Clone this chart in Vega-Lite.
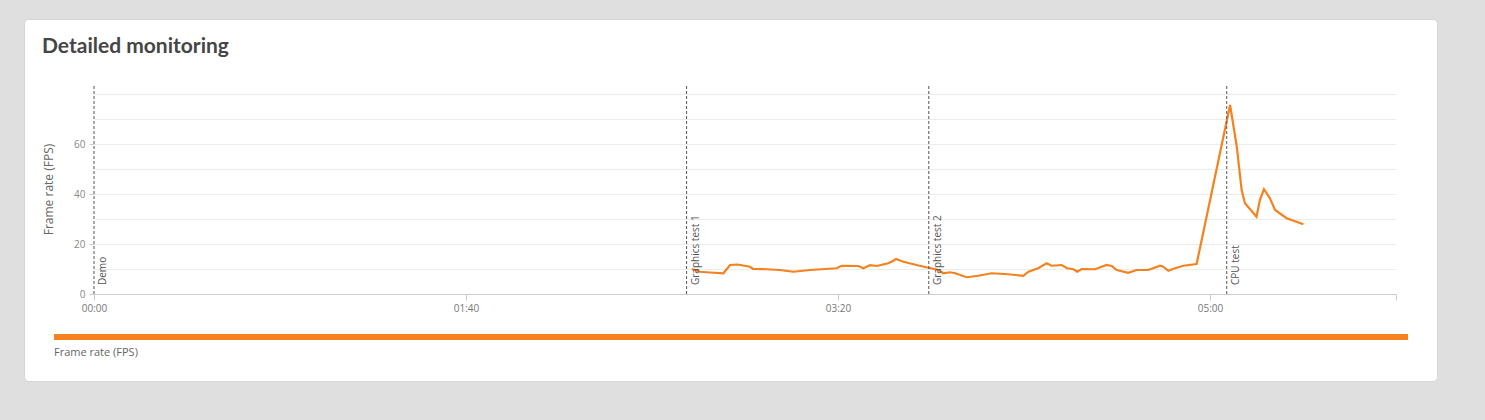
{
  "$schema": "https://vega.github.io/schema/vega-lite/v6.json",
  "width": 1413,
  "height": 362,
  "autosize": {"type": "none"},
  "padding": {"left": 24, "top": 19, "right": 48, "bottom": 39},
  "background": "#dfdfdf",
  "title": {"text": "Detailed monitoring", "anchor": "start", "frame": "group", "font": "Lato", "fontSize": 21, "fontWeight": "bold", "color": "#454545", "offset": -38, "dx": 18},
  "config": {
    "view": {"fill": "white", "stroke": "#d4d4d4", "cornerRadius": 4},
    "font": "Open Sans"
  },
  "datasets": {
    "fps": [
      {"t": 160.7, "fps": 10.0}, {"t": 162.9, "fps": 8.9}, {"t": 165.6, "fps": 8.6}, {"t": 169.2, "fps": 8.3},
      {"t": 170.1, "fps": 10.0}, {"t": 171.0, "fps": 11.6}, {"t": 173.0, "fps": 11.8}, {"t": 176.3, "fps": 10.9},
      {"t": 177.2, "fps": 10.0}, {"t": 180.8, "fps": 9.9}, {"t": 184.4, "fps": 9.6}, {"t": 188.0, "fps": 8.9},
      {"t": 192.5, "fps": 9.6}, {"t": 199.6, "fps": 10.3}, {"t": 201.0, "fps": 11.3}, {"t": 205.5, "fps": 11.2},
      {"t": 206.8, "fps": 10.3}, {"t": 208.6, "fps": 11.5}, {"t": 210.4, "fps": 11.2}, {"t": 213.5, "fps": 12.3},
      {"t": 214.4, "fps": 12.9}, {"t": 215.6, "fps": 14.0}, {"t": 217.6, "fps": 12.9}, {"t": 221.1, "fps": 11.6},
      {"t": 224.3, "fps": 10.5}, {"t": 227.0, "fps": 9.6}, {"t": 228.3, "fps": 8.3}, {"t": 230.1, "fps": 8.7},
      {"t": 231.5, "fps": 8.3}, {"t": 234.6, "fps": 6.7}, {"t": 237.7, "fps": 7.3}, {"t": 241.3, "fps": 8.3},
      {"t": 244.9, "fps": 8.0}, {"t": 249.8, "fps": 7.3}, {"t": 251.2, "fps": 8.9}, {"t": 253.8, "fps": 10.3},
      {"t": 256.1, "fps": 12.3}, {"t": 257.4, "fps": 11.3}, {"t": 260.1, "fps": 11.6}, {"t": 261.6, "fps": 10.3},
      {"t": 263.3, "fps": 9.9}, {"t": 264.3, "fps": 8.9}, {"t": 265.5, "fps": 10.0}, {"t": 269.1, "fps": 9.9},
      {"t": 272.2, "fps": 11.6}, {"t": 273.6, "fps": 11.2}, {"t": 274.9, "fps": 9.6}, {"t": 278.0, "fps": 8.5},
      {"t": 280.3, "fps": 9.6}, {"t": 283.4, "fps": 9.6}, {"t": 286.6, "fps": 11.3}, {"t": 287.4, "fps": 10.9},
      {"t": 288.8, "fps": 9.3}, {"t": 290.6, "fps": 10.3}, {"t": 292.8, "fps": 11.3}, {"t": 296.4, "fps": 12.0},
      {"t": 305.4, "fps": 75.6}, {"t": 307.2, "fps": 58.9}, {"t": 308.5, "fps": 41.6}, {"t": 309.4, "fps": 36.3},
      {"t": 312.5, "fps": 30.9}, {"t": 313.4, "fps": 37.6}, {"t": 314.5, "fps": 41.9}, {"t": 316.1, "fps": 38.3},
      {"t": 317.5, "fps": 33.6}, {"t": 320.6, "fps": 30.3}, {"t": 325.1, "fps": 27.9}
    ],
    "events": [
      {"t": 0, "name": "Demo"},
      {"t": 159.3, "name": "Graphics test 1"},
      {"t": 224.4, "name": "Graphics test 2"},
      {"t": 304.5, "name": "CPU test"}
    ]
  },
  "layer": [
    {
      "data": {"name": "fps"},
      "mark": {"type": "line", "strokeWidth": 2.2},
      "encoding": {
        "x": {
          "field": "t", "type": "quantitative",
          "scale": {"domain": [0, 350], "range": [70, 1372], "nice": false, "zero": false},
          "axis": {
            "values": [0, 100, 200, 300, 350],
            "labelExpr": "datum.value == 350 ? '' : utcFormat(datum.value * 1000, '%M:%S')",
            "title": null, "offset": -87, "grid": false,
            "domainColor": "#cccccc", "tickColor": "#cccccc", "tickSize": 6,
            "labelColor": "#777777", "labelFontSize": 10, "labelPadding": 3, "labelFlush": false
          }
        },
        "y": {
          "field": "fps", "type": "quantitative",
          "scale": {"domain": [0, 83.6], "range": [275, 66], "nice": false},
          "axis": {
            "values": [0, 10, 20, 30, 40, 50, 60, 70, 80],
            "labelExpr": "(datum.value % 20 == 0 && datum.value < 80) ? datum.label : ''",
            "title": "Frame rate (FPS)", "offset": -70, "domain": false,
            "grid": true, "gridColor": "#ececec",
            "tickColor": {"condition": {"test": "datum.value % 20 == 0 && datum.value < 80", "value": "#cccccc"}, "value": "transparent"},
            "tickSize": 5, "labelColor": "#888888", "labelFontSize": 10, "labelPadding": 4,
            "titleFontSize": 12, "titleFontWeight": "normal", "titleColor": "#666666",
            "titleX": -46, "titleY": 170, "titleBaseline": "middle", "titleAngle": 270, "titleAlign": "center"
          }
        },
        "color": {
          "datum": 1, "type": "quantitative",
          "scale": {"domain": [0, 1], "range": ["#f5821f", "#f5821f"]},
          "legend": {
            "orient": "none", "legendX": 30, "legendY": 315, "direction": "horizontal",
            "gradientLength": 1354, "gradientThickness": 6, "gradientStrokeWidth": 0,
            "values": [0], "labelExpr": "''", "labelFontSize": 1, "labelOpacity": 0, "labelOffset": 0,
            "title": "Frame rate (FPS)", "titleOrient": "bottom", "titleAnchor": "start",
            "titleFontSize": 11, "titleFontWeight": "normal", "titleColor": "#666666", "titlePadding": 6, "padding": 0
          }
        }
      }
    },
    {
      "data": {"name": "events"},
      "mark": {"type": "rule", "color": "#555555", "strokeDash": [3, 2], "strokeWidth": 1},
      "encoding": {
        "x": {"field": "t", "type": "quantitative"},
        "y": {"datum": 0},
        "y2": {"datum": 83.6}
      }
    },
    {
      "data": {"name": "events"},
      "mark": {"type": "text", "angle": 270, "align": "left", "baseline": "middle", "dx": 9, "dy": 9, "fontSize": 10, "color": "#555555"},
      "encoding": {
        "x": {"field": "t", "type": "quantitative"},
        "y": {"datum": 0},
        "text": {"field": "name"}
      }
    }
  ]
}
